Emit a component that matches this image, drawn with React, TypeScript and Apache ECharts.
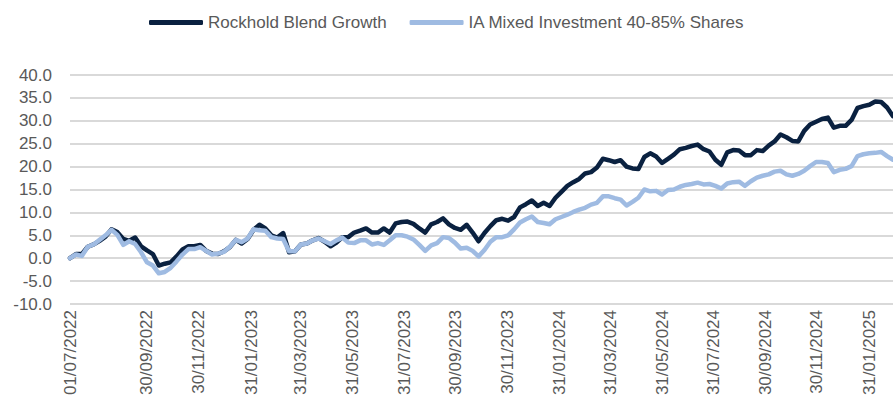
import React, { useEffect, useRef } from "react";
import * as echarts from "echarts";

const seriesNames = ["Rockhold Blend Growth", "IA Mixed Investment 40-85% Shares"];
const seriesColors = ["#0a2140", "#9fbbe2"];

// Weekly observations starting 01/07/2022
const startDate = "01/07/2022";
const stepDays = 7;

const rockhold = [
  0.0, 0.9, 0.9, 2.5, 3.0, 3.8, 4.7, 6.3, 5.7, 4.2,
  3.8, 4.5, 2.6, 1.7, 0.9, -1.6, -1.2, -0.9, 0.4, 1.9,
  2.6, 2.6, 2.9, 1.6, 1.0, 0.9, 1.5, 2.4, 4.0, 3.2,
  4.2, 6.2, 7.3, 6.5, 5.0, 4.5, 5.5, 1.3, 1.5, 3.0,
  3.2, 3.9, 4.4, 3.6, 2.6, 3.4, 4.6, 4.6, 5.6, 6.0,
  6.5, 5.6, 5.6, 6.5, 5.6, 7.6, 7.9, 8.0, 7.5, 6.5,
  5.6, 7.4, 7.9, 8.7, 7.4, 6.6, 6.2, 7.3, 5.6, 3.7,
  5.5, 7.0, 8.3, 8.6, 8.2, 9.0, 11.1, 11.8, 12.6, 11.4,
  12.1, 11.4, 13.2, 14.5, 15.8, 16.6, 17.3, 18.5, 18.8, 19.8,
  21.7, 21.4, 21.0, 21.4, 20.0, 19.6, 19.5, 22.1, 22.9, 22.2,
  20.8, 21.7, 22.6, 23.8, 24.1, 24.5, 24.8, 23.8, 23.3, 21.5,
  20.4, 23.1, 23.6, 23.5, 22.5, 22.5, 23.6, 23.4, 24.6, 25.5,
  27.0, 26.4, 25.6, 25.5, 27.8, 29.2, 29.8, 30.4, 30.7, 28.5,
  28.9, 28.9, 30.2, 32.8, 33.2, 33.5, 34.2, 34.1, 32.9, 31.0,
];

const iaMixed = [
  0.0, 0.8, 0.5, 2.5, 3.0, 4.0, 5.0, 6.2, 5.1, 2.9,
  3.7, 3.1, 1.3, -0.9, -1.6, -3.3, -3.0, -2.1, -0.7, 0.8,
  2.0, 2.0, 2.4, 1.6, 0.8, 1.0, 1.4, 2.5, 4.0, 3.5,
  4.3, 6.3, 6.1, 6.0, 4.6, 4.3, 4.2, 1.5, 1.5, 3.0,
  3.2, 3.9, 4.3, 3.7, 3.1, 3.9, 4.5, 3.4, 3.3, 3.9,
  3.9, 3.0, 3.3, 2.9, 3.9, 5.0, 5.0, 4.7, 4.1, 2.9,
  1.6, 2.8, 3.3, 4.6, 4.4, 3.4, 2.1, 2.3, 1.6, 0.4,
  1.8, 3.6, 4.6, 4.6, 5.0, 6.3, 7.8, 8.5, 9.1, 7.9,
  7.7, 7.4, 8.5, 9.0, 9.5, 10.1, 10.6, 11.0, 11.7, 12.1,
  13.5, 13.5, 13.1, 12.8, 11.5, 12.3, 13.2, 15.0, 14.6, 14.7,
  13.9, 14.9, 15.0, 15.6, 16.0, 16.2, 16.5, 16.1, 16.2, 15.8,
  15.2, 16.3, 16.6, 16.7, 15.8, 16.8, 17.6, 18.0, 18.3, 18.9,
  19.1, 18.3, 18.0, 18.4, 19.1, 20.1, 21.0, 21.0, 20.8, 18.8,
  19.3, 19.5, 20.1, 22.3, 22.7, 22.9, 23.0, 23.2, 22.3, 21.5,
];

const tickDates = [
  "01/07/2022", "30/09/2022", "30/11/2022", "31/01/2023", "31/03/2023",
  "31/05/2023", "31/07/2023", "30/09/2023", "30/11/2023", "31/01/2024",
  "31/03/2024", "31/05/2024", "31/07/2024", "30/09/2024", "30/11/2024",
  "31/01/2025",
];

const yMin = -10;
const yMax = 40;
const yInterval = 5;

const DAY = 86400000;
const parseDMY = (s: string) => {
  const [d, m, y] = s.split("/").map(Number);
  return Date.UTC(y, m - 1, d);
};
const pad = (n: number) => (n < 10 ? "0" + n : "" + n);
const fmtDMY = (t: number) => {
  const d = new Date(t);
  return pad(d.getUTCDate()) + "/" + pad(d.getUTCMonth() + 1) + "/" + d.getUTCFullYear();
};

export default function App() {
  const ref = useRef<HTMLDivElement>(null);
  useEffect(() => {
    if (!ref.current) return;
    const chart = echarts.init(ref.current, undefined, { renderer: "svg" });
    const t0 = parseDMY(startDate);
    const times = rockhold.map((_, i) => t0 + i * stepDays * DAY);
    const font = "'Liberation Sans', Arial, sans-serif";
    const textColor = "#595959";
    chart.setOption({
      animation: false,
      legend: {
        left: 144,
        top: 9,
        itemWidth: 54,
        itemHeight: 5,
        itemGap: 23,
        icon: "roundRect",
        textStyle: { fontSize: 17, color: textColor, fontFamily: font },
        data: seriesNames,
      },
      grid: { left: 70, right: 0, top: 75, bottom: 101, containLabel: false },
      xAxis: {
        type: "value",
        min: times[0],
        max: times[times.length - 1],
        axisLine: { show: false },
        axisTick: { show: false },
        splitLine: { show: false },
        axisLabel: {
          customValues: tickDates.map(parseDMY),
          rotate: 90,
          margin: 6,
          fontSize: 17,
          color: textColor,
          fontFamily: font,
          formatter: (v: number) => fmtDMY(v),
          hideOverlap: false,
        },
      },
      yAxis: {
        type: "value",
        min: yMin,
        max: yMax,
        interval: yInterval,
        axisLine: { show: false },
        axisTick: { show: false },
        axisLabel: {
          margin: 18,
          fontSize: 17,
          color: textColor,
          fontFamily: font,
          formatter: (v: number) => v.toFixed(1),
        },
        splitLine: { show: true, lineStyle: { color: "#d9d9d9", width: 2 } },
      },
      series: [
        {
          name: seriesNames[0],
          type: "line",
          data: times.map((t, i) => [t, rockhold[i]]),
          showSymbol: false,
          symbol: "none",
          color: seriesColors[0],
          lineStyle: { width: 4.5, color: seriesColors[0], cap: "round", join: "round" },
          z: 2,
        },
        {
          name: seriesNames[1],
          type: "line",
          data: times.map((t, i) => [t, iaMixed[i]]),
          showSymbol: false,
          symbol: "none",
          color: seriesColors[1],
          lineStyle: { width: 4.5, color: seriesColors[1], cap: "round", join: "round" },
          z: 3,
        },
      ],
    });
    return () => chart.dispose();
  }, []);
  return (
    <div
      ref={ref}
      style={{ position: "fixed", left: 0, top: 0, width: 893, height: 405, background: "#fff" }}
    />
  );
}
